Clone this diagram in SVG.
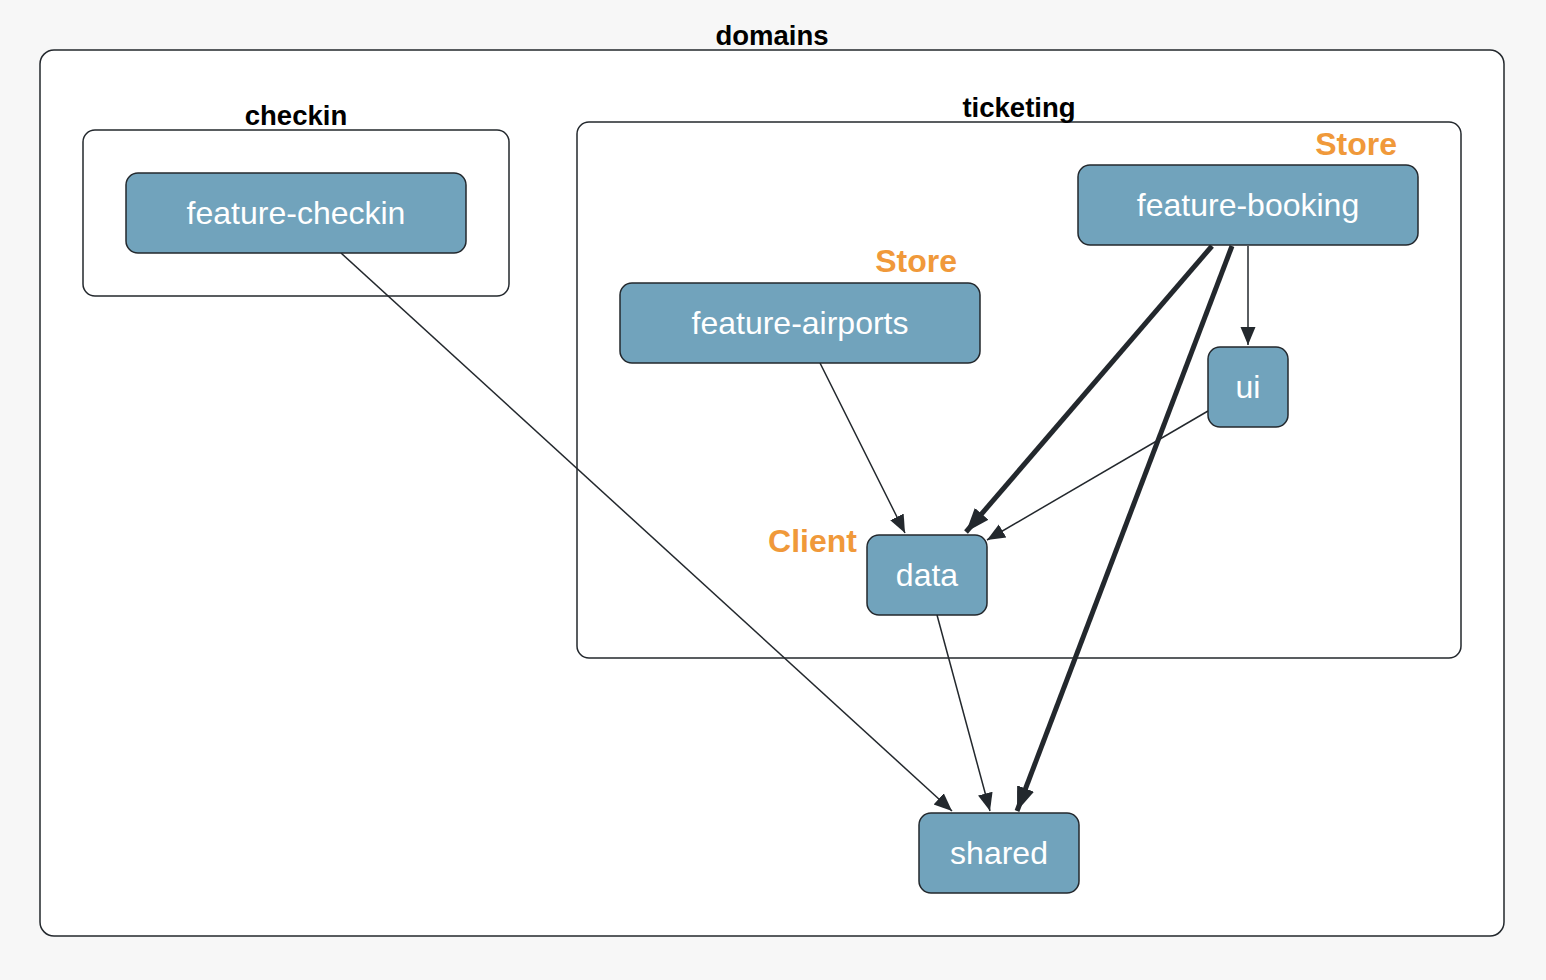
<svg xmlns="http://www.w3.org/2000/svg" width="1546" height="980" viewBox="0 0 1546 980">
<defs>
<style>
.bg{fill:#f7f7f7}
.cluster{fill:#ffffff;stroke:#23282d;stroke-width:1.5}
.ctitle{font-family:"Liberation Sans",Arial,sans-serif;font-weight:bold;font-size:27.5px;fill:#000;text-anchor:middle}
.node rect{fill:#71a3bc;stroke:#23282d;stroke-width:1.5}
.node text{font-family:"Liberation Sans",Arial,sans-serif;font-size:32px;fill:#ffffff;text-anchor:middle;dominant-baseline:central}
.node text.tag{font-family:"Liberation Sans",Arial,sans-serif;font-weight:bold;font-size:32px;fill:#f0993a;text-anchor:end;dominant-baseline:auto}
.e{stroke:#23282d;fill:none;stroke-width:1.5}
.et{stroke:#23282d;fill:none;stroke-width:5}
</style>
<marker id="ah" markerUnits="userSpaceOnUse" markerWidth="20" markerHeight="18" viewBox="0 0 20 18" refX="18" refY="9" orient="auto">
<path d="M0,1.5 L18,9 L0,16.5 Z" fill="#23282d"/>
</marker>
<marker id="aht" markerUnits="userSpaceOnUse" markerWidth="26" markerHeight="22" viewBox="0 0 26 22" refX="24" refY="11" orient="auto">
<path d="M0,2 L24,11 L0,20 Z" fill="#23282d"/>
</marker>
</defs>
<rect class="bg" x="0" y="0" width="1546" height="980"/>
<g id="domains">
<rect class="cluster" x="40" y="50" width="1464" height="886" rx="14"/>
<text class="ctitle" x="772" y="45">domains</text>
</g>
<g id="checkin">
<rect class="cluster" x="83" y="130" width="426" height="166" rx="12"/>
<text class="ctitle" x="296" y="125">checkin</text>
</g>
<g id="ticketing">
<rect class="cluster" x="577" y="122" width="884" height="536" rx="12"/>
<text class="ctitle" x="1019" y="117">ticketing</text>
</g>
<g id="connectors">
<line class="e" x1="341" y1="253" x2="952" y2="811" marker-end="url(#ah)"/>
<line class="e" x1="820" y1="363" x2="905" y2="533" marker-end="url(#ah)"/>
<line class="et" x1="1212" y1="246" x2="966" y2="532" marker-end="url(#aht)"/>
<line class="et" x1="1232" y1="246" x2="1017" y2="811" marker-end="url(#aht)"/>
<line class="e" x1="1248" y1="246" x2="1248" y2="345" marker-end="url(#ah)"/>
<line class="e" x1="1208" y1="411" x2="987" y2="540" marker-end="url(#ah)"/>
<line class="e" x1="937" y1="615" x2="990" y2="811" marker-end="url(#ah)"/>
</g>
<g id="feature-checkin" class="node">
<rect x="126" y="173" width="340" height="80" rx="12"/>
<text x="296" y="213">feature-checkin</text>
</g>
<g id="feature-booking" class="node">
<rect x="1078" y="165" width="340" height="80" rx="12"/>
<text x="1248" y="205">feature-booking</text>
<text class="tag" x="1397" y="155">Store</text>
</g>
<g id="feature-airports" class="node">
<rect x="620" y="283" width="360" height="80" rx="12"/>
<text x="800" y="323">feature-airports</text>
<text class="tag" x="957" y="272">Store</text>
</g>
<g id="ui" class="node">
<rect x="1208" y="347" width="80" height="80" rx="12"/>
<text x="1248" y="387">ui</text>
</g>
<g id="data" class="node">
<rect x="867" y="535" width="120" height="80" rx="12"/>
<text x="927" y="575">data</text>
<text class="tag" x="857" y="552">Client</text>
</g>
<g id="shared" class="node">
<rect x="919" y="813" width="160" height="80" rx="12"/>
<text x="999" y="853">shared</text>
</g>
</svg>
